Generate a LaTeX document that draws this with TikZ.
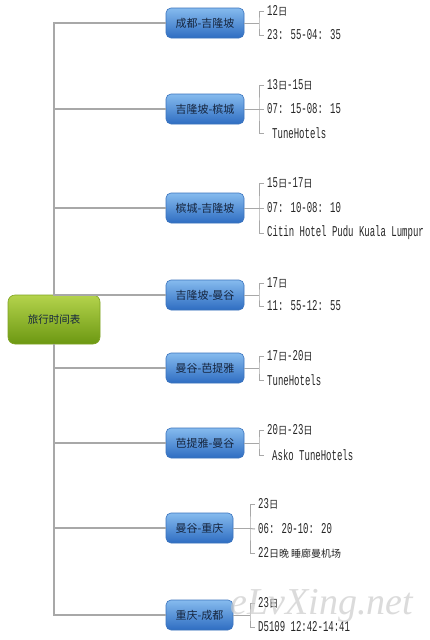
\documentclass[tikz,border=0pt]{standalone}
\usepackage{fontspec}
\newfontfamily\cjk{Noto Sans CJK SC}
\newfontfamily\cjkn[FakeStretch=0.88]{Noto Sans CJK SC}
\newfontfamily\leafmono[FakeStretch=0.6]{Liberation Mono}
\newfontfamily\wmfont{Liberation Serif}
\definecolor{linegray}{HTML}{A8A8A8}
\definecolor{bluetop}{HTML}{86BBEE}
\definecolor{bluebot}{HTML}{2E6DC2}
\definecolor{blueedge}{HTML}{3B73BD}
\definecolor{greentop}{HTML}{B4D34C}
\definecolor{greenbot}{HTML}{6C9812}
\definecolor{greenedge}{HTML}{7FA322}
\definecolor{nodetext}{HTML}{16263F}
\newcommand{\ri}{{\cjkn\fontsize{10.5}{12}\selectfont 日}}
\begin{document}
\begin{tikzpicture}[x=1pt,y=-1pt,
  conn/.style={draw=linegray,line width=1.3pt},
  tick/.style={draw=linegray,line width=1pt},
  branchbox/.style={rounded corners=5pt,draw=blueedge,line width=0.6pt,
    top color=bluetop,bottom color=bluebot,minimum height=30pt,inner sep=0pt,
    font=\cjk\fontsize{11}{13}\selectfont,text=nodetext},
  rootbox/.style={rounded corners=7pt,draw=greenedge,line width=0.6pt,
    top color=greentop,bottom color=greenbot,minimum width=92pt,minimum height=49pt,inner sep=0pt,
    font=\cjk\fontsize{10.5}{13}\selectfont,text=nodetext},
  leaf/.style={anchor=west,inner xsep=3pt,inner ysep=0.5pt,font=\leafmono\fontsize{15}{17}\selectfont,text=black!85}
]
\useasboundingbox (0,0) rectangle (429,640);
\fill[white] (0,0) rectangle (429,640);

% root
\node[rootbox] (root) at (54,319.5) {旅行时间表};

% branch nodes
\node[branchbox,minimum width=78pt] (b1) at (205,23) {成都-吉隆坡};
\node[branchbox,minimum width=78pt] (b2) at (205,109) {吉隆坡-槟城};
\node[branchbox,minimum width=78pt] (b3) at (205,208) {槟城-吉隆坡};
\node[branchbox,minimum width=78pt] (b4) at (205,295) {吉隆坡-曼谷};
\node[branchbox,minimum width=78pt] (b5) at (205,368) {曼谷-芭提雅};
\node[branchbox,minimum width=78pt] (b6) at (205,443) {芭提雅-曼谷};
\node[branchbox,minimum width=67pt] (b7) at (199.5,528) {曼谷-重庆};
\node[branchbox,minimum width=67pt] (b8) at (199.5,615) {重庆-成都};

% trunk and branches
\foreach \b in {b1,b2,b3,b4} \draw[conn] (root.north) |- (\b.west);
\foreach \b in {b5,b6,b7,b8} \draw[conn] (root.south) |- (\b.west);

% leaves
\node[leaf] (l11) at (264,11) {12\ri};
\node[leaf] (l12) at (264,35) {23: 55-04: 35};

\node[leaf] (l21) at (264,85) {13\ri-15\ri};
\node[leaf] (l22) at (264,109) {07: 15-08: 15};
\node[leaf] (l23) at (264,133) {\hspace{5pt}TuneHotels};

\node[leaf] (l31) at (264,183) {15\ri-17\ri};
\node[leaf] (l32) at (264,208) {07: 10-08: 10};
\node[leaf] (l33) at (264,233) {Citin Hotel Pudu Kuala Lumpur};

\node[leaf] (l41) at (264,283) {17\ri};
\node[leaf] (l42) at (264,306) {11: 55-12: 55};

\node[leaf] (l51) at (264,356) {17\ri-20\ri};
\node[leaf] (l52) at (264,380) {TuneHotels};

\node[leaf] (l61) at (264,430) {20\ri-23\ri};
\node[leaf] (l62) at (264,455) {\hspace{5pt}Asko TuneHotels};

\node[leaf] (l71) at (255,504) {23\ri};
\node[leaf] (l72) at (255,529) {06: 20-10: 20};
\node[leaf] (l73) at (255,553) {22{\cjk\fontsize{10}{12}\selectfont 日晚\ 睡廊曼机场}};

\node[leaf] (l81) at (255,603) {23\ri};
\node[leaf] (l82) at (255,627) {D5109 12:42-14:41};

% brackets
\newcommand{\brk}[5]{% node, bx, cy, top leaf, bottom leaf
  \draw[tick] (#1.east) -- (#2,#3);
  \draw[tick] (#4.west) -| (#2,#3) |- (#5.west);
}
\brk{b1}{259}{23}{l11}{l12}
\brk{b2}{259}{109}{l21}{l23}
\draw[tick] (259,109) -- (l22.west);
\brk{b3}{259}{208}{l31}{l33}
\draw[tick] (259,208) -- (l32.west);
\brk{b4}{259}{295}{l41}{l42}
\brk{b5}{259}{368}{l51}{l52}
\brk{b6}{259}{443}{l61}{l62}
\brk{b7}{250}{528}{l71}{l73}
\draw[tick] (250,528.5) -- (l72.west);
\brk{b8}{250}{615}{l81}{l82}

% watermark
\node[text=gray!40,opacity=0.7,font=\wmfont\itshape\fontsize{38}{40}\selectfont] (wm) at (322,606) {eLvXing.net};
\end{tikzpicture}
\end{document}
